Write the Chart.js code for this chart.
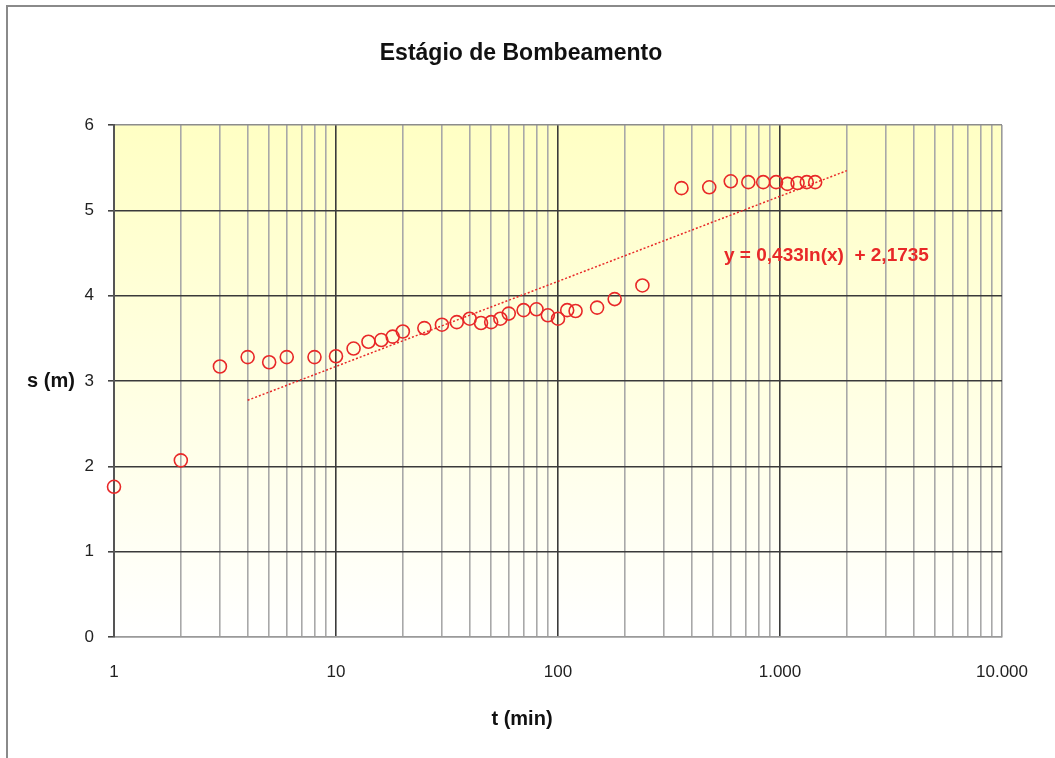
<!DOCTYPE html>
<html>
<head>
<meta charset="utf-8">
<script src="https://cdn.jsdelivr.net/npm/chart.js@4.4.1/dist/chart.umd.min.js"></script>
<style>
  html, body { margin: 0; padding: 0; background: #ffffff; }
  #wrap { position: relative; width: 1055px; height: 758px; overflow: hidden; }
  #frame { position: absolute; left: 6px; top: 5px; width: 1100px; height: 800px; border-left: 2px solid #8a8a8a; border-top: 2px solid #8a8a8a; }
  canvas { position: absolute; left: 0; top: 0; }
</style>
</head>
<body>
<div id="wrap">
  <div id="frame"></div>
  <canvas id="c" width="1055" height="758"></canvas>
</div>
<script>
const chartTitle = 'Estágio de Bombeamento';
const xAxisTitle = 't (min)';
const yAxisTitle = 's (m)';
const equationText = 'y = 0,433ln(x)  + 2,1735';

const tMin = [1,2,3,4,5,6,8,10,12,14,16,18,20,25,30,35,40,45,50,55,60,70,80,90,100,110,120,150,180,240,360,480,600,720,840,960,1080,1200,1320,1440];
const sM   = [1.76,2.07,3.17,3.28,3.22,3.28,3.28,3.29,3.38,3.46,3.48,3.52,3.58,3.62,3.66,3.69,3.73,3.68,3.69,3.73,3.79,3.83,3.84,3.77,3.73,3.83,3.82,3.86,3.96,4.12,5.26,5.27,5.34,5.33,5.33,5.33,5.31,5.32,5.33,5.33];

const trendT = [4, 2000];
const trendS = [2.774, 5.465];

const xTickValues = [1, 10, 100, 1000, 10000];
const xTickLabels = ['1', '10', '100', '1.000', '10.000'];
const yTickLabels = ['0', '1', '2', '3', '4', '5', '6'];

const red = 'rgb(232,40,40)';
const fontFam = '"Liberation Sans", Arial, sans-serif';

const pointsData = tMin.map((t, i) => ({ x: t, y: sM[i] }));
const trendData = trendT.map((t, i) => ({ x: t, y: trendS[i] }));

const bgPlugin = {
  id: 'bg',
  beforeDraw(chart) {
    const { ctx, chartArea: a } = chart;
    const g = ctx.createLinearGradient(0, a.top, 0, a.bottom);
    g.addColorStop(0, '#ffffc4');
    g.addColorStop(1, '#ffffff');
    ctx.save();
    ctx.fillStyle = g;
    ctx.fillRect(a.left, a.top, a.right - a.left, a.bottom - a.top);
    ctx.restore();
  }
};

const textPlugin = {
  id: 'texts',
  afterDraw(chart) {
    const { ctx } = chart;
    ctx.save();
    ctx.fillStyle = '#111';
    ctx.textAlign = 'center';
    ctx.textBaseline = 'middle';
    ctx.font = 'bold 23px ' + fontFam;
    ctx.fillText(chartTitle, 521, 54);
    ctx.font = 'bold 20px ' + fontFam;
    ctx.fillText(xAxisTitle, 522, 719);
    ctx.fillText(yAxisTitle, 51, 381);
    ctx.fillStyle = red;
    ctx.textAlign = 'left';
    ctx.font = 'bold 19px ' + fontFam;
    ctx.fillText(equationText, 724, 256);
    ctx.restore();
  }
};

new Chart(document.getElementById('c'), {
  type: 'scatter',
  data: {
    datasets: [
      {
        label: 's',
        data: pointsData,
        showLine: false,
        clip: false,
        pointStyle: 'circle',
        pointRadius: 6.5,
        pointHoverRadius: 6.5,
        pointBorderWidth: 1.6,
        pointBorderColor: red,
        pointBackgroundColor: 'rgba(0,0,0,0)',
        order: 1
      },
      {
        label: 'trend',
        data: trendData,
        showLine: true,
        pointRadius: 0,
        borderColor: red,
        borderWidth: 1.5,
        borderDash: [2, 2],
        fill: false,
        order: 2
      }
    ]
  },
  options: {
    responsive: false,
    animation: false,
    devicePixelRatio: 1,
    layout: { padding: { top: 125, right: 53, left: 0, bottom: 0 } },
    plugins: {
      legend: { display: false },
      title: { display: false },
      tooltip: { enabled: false }
    },
    scales: {
      x: {
        type: 'logarithmic',
        min: 1,
        max: 10000,
        afterFit(scale) { scale.height = 121; },
        afterBuildTicks(scale) {
          const t = [];
          for (let d = 1; d < 10000; d *= 10) {
            for (let k = 1; k < 10; k++) t.push({ value: k * d });
          }
          t.push({ value: 10000 });
          scale.ticks = t;
        },
        ticks: {
          autoSkip: false,
          maxRotation: 0,
          padding: 25,
          color: '#222',
          font: { size: 17, family: fontFam },
          callback(value) {
            const i = xTickValues.indexOf(value);
            return i >= 0 ? xTickLabels[i] : '';
          }
        },
        grid: {
          drawTicks: false,
          lineWidth: 1.6,
          color(ctx) {
            const v = ctx.tick ? ctx.tick.value : 0;
            if (v === 10000) return '#9a9a9a';
            if (v === 1) return '#555';
            return xTickValues.indexOf(v) >= 0 ? '#3a3a3a' : '#a8a8a8';
          }
        },
        border: { display: true, color: '#9a9a9a', width: 1.6 }
      },
      y: {
        min: 0,
        max: 6,
        afterFit(scale) { scale.width = 114; },
        ticks: {
          stepSize: 1,
          padding: 14,
          color: '#222',
          font: { size: 17, family: fontFam },
          callback(value) {
            const i = Math.round(value);
            return yTickLabels[i] !== undefined ? yTickLabels[i] : '';
          }
        },
        grid: {
          drawTicks: true,
          tickLength: 6,
          tickColor: '#444',
          lineWidth: 1.6,
          color(ctx) {
            const v = ctx.tick ? ctx.tick.value : 0;
            if (v === 0) return '#9a9a9a';
            if (v === 6) return '#8c8c8c';
            return '#3a3a3a';
          }
        },
        border: { display: true, color: '#555', width: 2 }
      }
    }
  },
  plugins: [bgPlugin, textPlugin]
});
</script>
</body>
</html>
